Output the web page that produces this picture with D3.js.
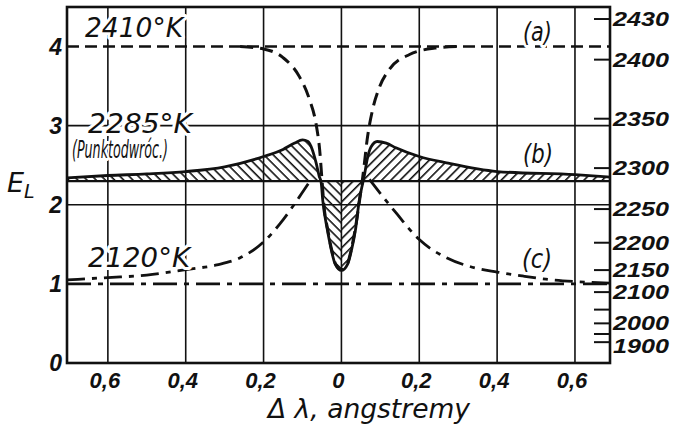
<!DOCTYPE html>
<html><head><meta charset="utf-8">
<script src="https://cdn.jsdelivr.net/npm/d3@7"></script>
<style>
html,body{margin:0;padding:0;background:#fff;}
svg{display:block;}
</style></head><body>
<svg id="chart" width="678" height="445"></svg>
<script>
// Na D-line profile: lamp brightness E_L against wavelength offset Δλ (Å)
const xTicks = [-0.6, -0.4, -0.2, 0, 0.2, 0.4, 0.6];
const xTickLabels = ["0,6", "0,4", "0,2", "0", "0,2", "0,4", "0,6"];
const yTicks = [0, 1, 2, 3, 4];
const gridY = [2, 3];

// right-hand temperature scale (K)
const tempTicks = [2430, 2400, 2350, 2300, 2250, 2200, 2150, 2100, 2050, 2000, 1950, 1900];
const tempLabels = ["2430", "2400", "2350", "2300", "2250", "2200", "2150", "2100", "", "2000", "", "1900"];

// lamp levels: (a) 2410 K, (b) 2285 K reversal point, (c) 2120 K
const levelTemps = [2410, 2285, 2120];
const levelE = [4, 2.3, 1];

// curve (a): lamp above the reversal temperature
const curveA = [
  [-0.26, 4.0], [-0.2, 3.97], [-0.15, 3.86], [-0.108, 3.62], [-0.082, 3.33],
  [-0.064, 2.99], [-0.056, 2.70], [-0.05, 2.32], [-0.045, 2.0], [-0.035, 1.68],
  [-0.025, 1.43], [-0.015, 1.25], [0, 1.18], [0.015, 1.25], [0.025, 1.43],
  [0.035, 1.68], [0.045, 2.0], [0.054, 2.32], [0.058, 2.48], [0.066, 2.82],
  [0.08, 3.20], [0.098, 3.49], [0.123, 3.71], [0.175, 3.90], [0.24, 3.98], [0.3, 4.0]
];

// curve (b): at the reversal point, hatched against the 2285 K level
const curveB = [
  [-0.705, 2.34], [-0.6, 2.37], [-0.5, 2.39], [-0.4, 2.42], [-0.3, 2.48],
  [-0.2, 2.61], [-0.15, 2.70], [-0.12, 2.78], [-0.10, 2.82], [-0.086, 2.80],
  [-0.075, 2.70], [-0.065, 2.53], [-0.057, 2.36], [-0.052, 2.28], [-0.048, 2.06],
  [-0.036, 1.68], [-0.026, 1.43], [-0.016, 1.25], [0, 1.17], [0.016, 1.25],
  [0.026, 1.43], [0.036, 1.68], [0.046, 2.06], [0.055, 2.28], [0.060, 2.40],
  [0.066, 2.57], [0.076, 2.73], [0.092, 2.80], [0.115, 2.78], [0.14, 2.72],
  [0.2, 2.61], [0.27, 2.53], [0.4, 2.42], [0.6, 2.38], [0.69, 2.35]
];

// curve (c): lamp below the reversal temperature
const curveC = [
  [-0.705, 1.05], [-0.6, 1.08], [-0.5, 1.11], [-0.4, 1.18], [-0.32, 1.24],
  [-0.26, 1.33], [-0.2, 1.53], [-0.15, 1.81], [-0.108, 2.10], [-0.082, 2.29],
  [0, null],
  [0.072, 2.32], [0.14, 1.90], [0.2, 1.56], [0.27, 1.33], [0.33, 1.22],
  [0.4, 1.15], [0.465, 1.10], [0.525, 1.06], [0.6, 1.03], [0.69, 1.01]
];

const svg = d3.select("#chart");
const L = 67, R = 610, T = 7, B = 363;

const x = d3.scaleLinear().domain([-0.705, 0.69]).range([L, R]);
const y = d3.scaleLinear().domain([0, 4.5]).range([B, T]);

// brightness of a grey body at the Na line: ln E = a - b/T, fixed by levels (a) and (c)
const kB = Math.log(levelE[0] / levelE[2]) / (1 / levelTemps[2] - 1 / levelTemps[0]);
const eOfT = t => levelE[2] * Math.exp(kB * (1 / levelTemps[2] - 1 / t));
const yT = t => y(eOfT(t));

const numFont = "'Liberation Sans', Arial, sans-serif";
const handFont = "'DejaVu Sans', sans-serif";

// hatch patterns
const defs = svg.append("defs");
function hatch(id, angle, gap) {
  const p = defs.append("pattern").attr("id", id)
    .attr("patternUnits", "userSpaceOnUse")
    .attr("width", 20).attr("height", gap)
    .attr("patternTransform", `rotate(${angle})`);
  p.append("rect").attr("x", 0).attr("y", 0).attr("width", 20).attr("height", 1.6).attr("fill", "#111");
}
hatch("hatchL", 45, 6.5);
hatch("hatchR", -45, 6.5);
defs.append("clipPath").attr("id", "clipL").append("rect")
  .attr("x", L).attr("y", T).attr("width", x(0) - L).attr("height", B - T);
defs.append("clipPath").attr("id", "clipR").append("rect")
  .attr("x", x(0)).attr("y", T).attr("width", R - x(0)).attr("height", B - T);
defs.append("clipPath").attr("id", "clipPlot").append("rect")
  .attr("x", L).attr("y", T).attr("width", R - L).attr("height", B - T);

// grid
const grid = svg.append("g").attr("stroke", "#111").attr("stroke-width", 1.6);
grid.selectAll("line.v").data(xTicks).join("line")
  .attr("x1", d => x(d)).attr("x2", d => x(d)).attr("y1", T).attr("y2", B);
grid.selectAll("line.h").data(gridY).join("line")
  .attr("x1", L).attr("x2", R).attr("y1", d => y(d)).attr("y2", d => y(d));

// hatched regions between curve (b) and the reversal level
const area = d3.area().x(d => x(d[0])).y0(y(levelE[1])).y1(d => y(d[1])).curve(d3.curveMonotoneX);
svg.append("path").datum(curveB).attr("d", area).attr("fill", "url(#hatchL)").attr("clip-path", "url(#clipL)");
svg.append("path").datum(curveB).attr("d", area).attr("fill", "url(#hatchR)").attr("clip-path", "url(#clipR)");

const plot = svg.append("g").attr("clip-path", "url(#clipPlot)").attr("fill", "none").attr("stroke", "#111");

// level lines
plot.append("line").attr("x1", L).attr("x2", R).attr("y1", y(levelE[0])).attr("y2", y(levelE[0]))
  .attr("stroke-width", 2.6).attr("stroke-dasharray", "12,6");
plot.append("line").attr("x1", L).attr("x2", R).attr("y1", y(levelE[1])).attr("y2", y(levelE[1]))
  .attr("stroke-width", 2.2);
plot.append("line").attr("x1", L).attr("x2", R).attr("y1", y(levelE[2])).attr("y2", y(levelE[2]))
  .attr("stroke-width", 2.6).attr("stroke-dasharray", "24,7,5,7");

const line = d3.line().defined(d => d[1] != null).x(d => x(d[0])).y(d => y(d[1])).curve(d3.curveMonotoneX);
plot.append("path").datum(curveB).attr("d", line).attr("stroke-width", 2.8).attr("stroke-linejoin", "round");
plot.append("path").datum(curveA).attr("d", line).attr("stroke-width", 3).attr("stroke-dasharray", "13,7");
plot.append("path").datum(curveC).attr("d", line).attr("stroke-width", 2.8).attr("stroke-dasharray", "18,7,5,7");

// frame
svg.append("rect").attr("x", L).attr("y", T).attr("width", R - L).attr("height", B - T)
  .attr("fill", "none").attr("stroke", "#111").attr("stroke-width", 2.6);

// right temperature ticks; the two lowest labels sit a little under their ticks
const rt = svg.append("g");
rt.selectAll("line").data(tempTicks).join("line")
  .attr("x1", R - 16).attr("x2", R).attr("y1", d => yT(d)).attr("y2", d => yT(d))
  .attr("stroke", "#111").attr("stroke-width", 2);
rt.selectAll("text").data(tempTicks.filter((d, i) => tempLabels[i] !== "")).join("text")
  .attr("x", R + 3).attr("y", d => yT(d) + (d === 1900 ? 11 : 7))
  .attr("font-family", numFont).attr("font-weight", "bold").attr("font-style", "italic")
  .attr("font-size", 20).attr("fill", "#111")
  .attr("textLength", 56).attr("lengthAdjust", "spacingAndGlyphs")
  .text(d => tempLabels[tempTicks.indexOf(d)]);

// left ticks
svg.append("g").selectAll("text").data(yTicks).join("text")
  .attr("x", 62).attr("y", d => y(d) + 8).attr("text-anchor", "end")
  .attr("font-family", numFont).attr("font-weight", "bold").attr("font-style", "italic")
  .attr("font-size", 23).attr("fill", "#111").text(d => d);

// bottom ticks
svg.append("g").selectAll("text").data(xTicks).join("text")
  .attr("x", d => x(d) - 3).attr("y", 388).attr("text-anchor", "middle")
  .attr("font-family", numFont).attr("font-weight", "bold").attr("font-style", "italic")
  .attr("font-size", 22).attr("fill", "#111").text((d, i) => xTickLabels[i]);

// annotations
function note(txt, x0, y0, size, len) {
  svg.append("text").attr("x", x0).attr("y", y0)
    .attr("font-family", handFont).attr("font-style", "italic").attr("font-size", size)
    .attr("fill", "#111").attr("stroke", "#fff").attr("stroke-width", 6)
    .attr("stroke-linejoin", "round").attr("paint-order", "stroke")
    .attr("textLength", len).attr("lengthAdjust", "spacingAndGlyphs")
    .text(txt);
}
note("2410°K", 85, 37, 27, 98);
note("2285°K", 88, 133, 27, 104);
note("(Punktodwróc.)", 72, 158, 24, 96);
note("2120°K", 88, 267, 27, 102);
note("(a)", 523, 41, 26, 29);
note("(b)", 523, 163, 26, 30);
note("(c)", 522, 268, 26, 30);

// axis titles
const eL = svg.append("text").attr("x", 7).attr("y", 192)
  .attr("font-family", handFont).attr("font-style", "italic").attr("font-size", 27).attr("fill", "#111");
eL.append("tspan").text("E");
eL.append("tspan").attr("dy", 6).attr("font-size", 19).text("L");

svg.append("text").attr("x", 268).attr("y", 418)
  .attr("font-family", handFont).attr("font-style", "italic").attr("font-size", 26).attr("fill", "#111")
  .attr("textLength", 202).attr("lengthAdjust", "spacingAndGlyphs")
  .text("Δ λ, angstremy");
</script>
</body></html>
